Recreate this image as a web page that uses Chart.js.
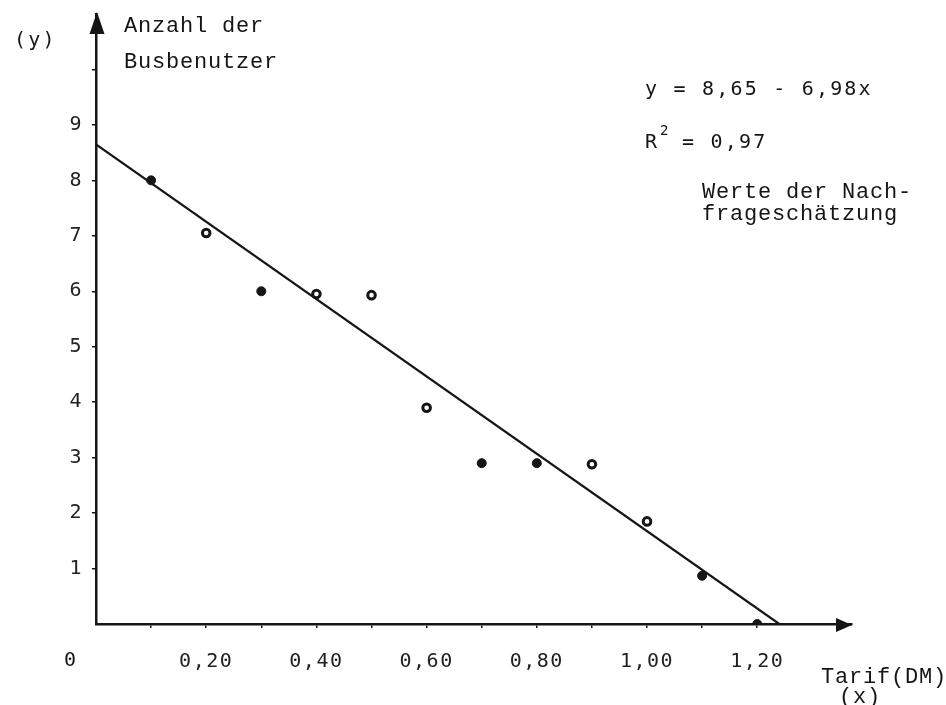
<!DOCTYPE html>
<html>
<head>
<meta charset="utf-8">
<script src="https://cdn.jsdelivr.net/npm/chart.js@4"></script>
<style>
  body { margin: 0; background: #fff; }
  #wrap { width: 946px; height: 705px; }
</style>
</head>
<body>
<div id="wrap"><canvas id="demand"></canvas></div>
<script>
// observed points (Tarif in DM, Busbenutzer)
const filledX = [0.1, 0.3, 0.7, 0.8, 1.1, 1.2];
const filledY = [8.0, 6.0, 2.9, 2.9, 0.87, 0.0];
const openX = [0.2, 0.4, 0.5, 0.6, 0.9, 1.0];
const openY = [7.05, 5.95, 5.93, 3.9, 2.88, 1.85];

// regression line y = 8,65 - 6,98x, drawn between its ends
const fitX = [0, 1.24];
const fitY = [8.65, 0];

const yTickValues = [1, 2, 3, 4, 5, 6, 7, 8, 9, 10];
const yTickLabels = ['1', '2', '3', '4', '5', '6', '7', '8', '9', ''];
const xTickValues = [0.1, 0.2, 0.3, 0.4, 0.5, 0.6, 0.7, 0.8, 0.9, 1.0, 1.1, 1.2];
const xTickLabels = ['', '0,20', '', '0,40', '', '0,60', '', '0,80', '', '1,00', '', '1,20'];

const ink = '#151515';
const typewriter = '"Liberation Mono"';
const sans = 'DejaVu Sans Mono';

const toPoints = (xs, ys) => xs.map((x, i) => ({ x: x, y: ys[i] }));

// typewriter spacing for all text
const spacing = {
  id: 'spacing',
  beforeDraw(chart) { chart.ctx.letterSpacing = '1.5px'; }
};

// arrows and free text round the axes
const extras = {
  id: 'extras',
  afterDraw(chart) {
    const ctx = chart.ctx;
    const a = chart.chartArea;
    ctx.save();
    ctx.fillStyle = ink;
    // y arrow
    ctx.beginPath();
    ctx.moveTo(a.left + 1, a.top - 2);
    ctx.lineTo(a.left - 6.5, a.top + 20);
    ctx.lineTo(a.left + 8.5, a.top + 20);
    ctx.closePath();
    ctx.fill();
    // x arrow
    ctx.beginPath();
    ctx.moveTo(a.right, a.bottom + 1);
    ctx.lineTo(a.right - 16, a.bottom - 6);
    ctx.lineTo(a.right - 16, a.bottom + 8);
    ctx.closePath();
    ctx.fill();

    ctx.letterSpacing = '0.8px';
    ctx.textBaseline = 'alphabetic';
    ctx.font = '22px ' + typewriter;
    ctx.fillText('Anzahl der', 124, 32);
    ctx.fillText('Busbenutzer', 124, 68);
    ctx.fillText('Werte der Nach-', 702, 198);
    ctx.fillText('frageschätzung', 702, 220);
    ctx.fillText('Tarif(DM)', 821, 683);
    ctx.fillText('(x)', 839, 703);

    ctx.letterSpacing = '2.2px';
    ctx.font = '20px "' + sans + '"';
    ctx.fillText('(y)', 14, 46);
    ctx.fillText('y = 8,65 - 6,98x', 645, 95);
    ctx.fillText('R', 645, 148);
    ctx.fillText('= 0,97', 682, 148);
    ctx.fillText('0', 64, 666);
    ctx.font = '14px "' + sans + '"';
    ctx.fillText('2', 660, 135);
    ctx.restore();
  }
};

new Chart(document.getElementById('demand'), {
  type: 'scatter',
  data: {
    datasets: [
      {
        type: 'line',
        data: toPoints(fitX, fitY),
        borderColor: ink,
        borderWidth: 2.2,
        pointRadius: 0,
        fill: false
      },
      {
        data: toPoints(filledX, filledY),
        pointRadius: 4.5,
        pointBackgroundColor: ink,
        pointBorderColor: ink,
        pointBorderWidth: 1
      },
      {
        data: toPoints(openX, openY),
        pointRadius: 3.8,
        pointBackgroundColor: '#fff',
        pointBorderColor: ink,
        pointBorderWidth: 3
      }
    ]
  },
  options: {
    responsive: true,
    maintainAspectRatio: false,
    animation: false,
    events: [],
    layout: { padding: { top: 14, right: 94, left: 0, bottom: 0 } },
    plugins: { legend: { display: false }, tooltip: { enabled: false } },
    scales: {
      x: {
        type: 'linear',
        min: 0,
        max: 1.372,
        afterFit(scale) {
          scale.height = 81;
          scale.paddingLeft = 0;
          scale.paddingRight = 0;
        },
        afterBuildTicks(scale) { scale.ticks = xTickValues.map(v => ({ value: v })); },
        border: { display: true, color: ink, width: 2.5 },
        grid: { drawOnChartArea: false, drawTicks: true, tickLength: 4, color: ink, lineWidth: 1.5 },
        ticks: {
          autoSkip: false,
          maxRotation: 0,
          padding: 22,
          color: '#222',
          font: { family: sans, size: 20 },
          callback: (v, i) => xTickLabels[i]
        }
      },
      y: {
        type: 'linear',
        min: 0,
        max: 11,
        afterFit(scale) {
          scale.width = 96;
          scale.paddingTop = 0;
          scale.paddingBottom = 0;
        },
        afterBuildTicks(scale) { scale.ticks = yTickValues.map(v => ({ value: v })); },
        border: { display: true, color: ink, width: 2.5 },
        grid: { drawOnChartArea: false, drawTicks: true, tickLength: 4, color: ink, lineWidth: 1.5 },
        ticks: {
          autoSkip: false,
          padding: 9,
          color: '#222',
          font: { family: sans, size: 20 },
          callback: (v, i) => yTickLabels[i]
        }
      }
    }
  },
  plugins: [spacing, extras]
});
</script>
</body>
</html>
